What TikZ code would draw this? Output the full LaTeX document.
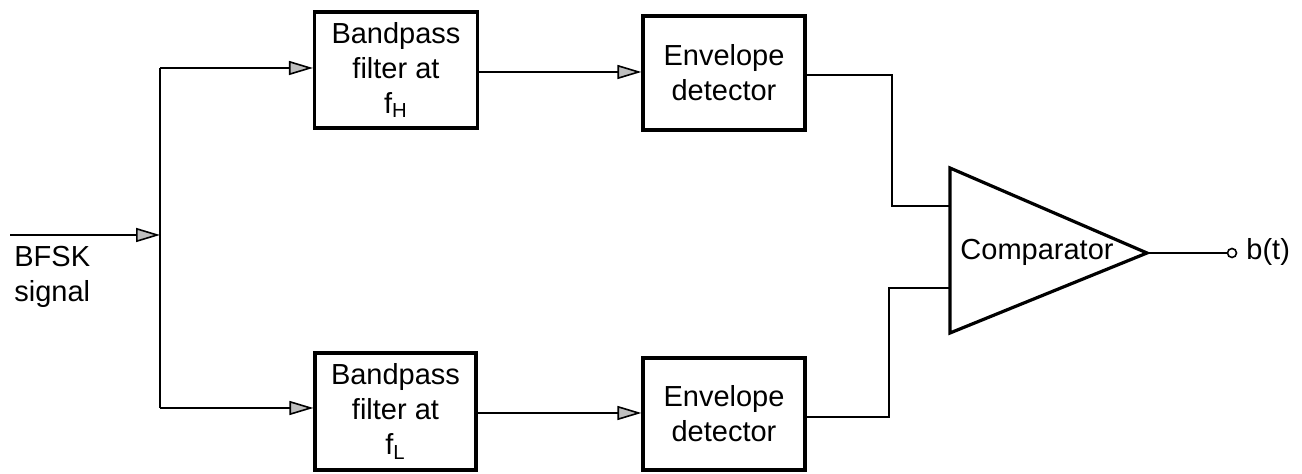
\documentclass[tikz,border=0pt]{standalone}
\usepackage{fontspec}
\setmainfont{Liberation Sans}
\usetikzlibrary{arrows.meta}
\begin{document}
\begin{tikzpicture}[x=0.5pt,y=-0.5pt,
  txt/.style={font=\fontsize{14.5}{17.5}\selectfont, inner sep=0pt},
  blk/.style={txt, draw, line width=1.6pt, align=center},
  wire/.style={line width=0.8pt},
  arr/.style={wire, -{Triangle[length=12pt,width=7pt,fill=gray!50]}}
]
\useasboundingbox (0,0) rectangle (1302,474);
% blocks
\node[blk, minimum width=81.5pt, minimum height=58pt] (bpfH) at (396,70) {Bandpass\\filter at\\f\textsubscript{H}};
\node[blk, minimum width=81pt, minimum height=57pt] (envH) at (724,73) {Envelope\\detector};
\node[blk, minimum width=80.5pt, minimum height=58.5pt] (bpfL) at (395.5,411.5) {Bandpass\\filter at\\f\textsubscript{L}};
\node[blk, minimum width=81pt, minimum height=56pt] (envL) at (724,414) {Envelope\\detector};
% comparator
\coordinate (ctop) at (950,168);
\coordinate (cbot) at (950,333);
\coordinate (ctip) at (1147,253);
\draw[line width=1.6pt, line join=miter] (ctop) -- (ctip) -- (cbot) -- cycle;
\node[txt] (comp) at (1037,252) {Comparator};
\coordinate (cin1) at (950,206);
\coordinate (cin2) at (950,288);
% input
\coordinate (inL) at (10,235);
\coordinate (split) at (160,235);
\coordinate (splitT) at (160,68);
\coordinate (splitB) at (160,408);
\node[txt, anchor=north west, align=left] (lbl) at (14,246) {BFSK\\signal};
\draw[arr] (inL) -- (split);
\draw[wire] (splitT) -- (splitB);
\draw[arr] (splitT) -- (bpfH.west |- splitT);
\draw[arr] (splitB) -- (bpfL.west |- splitB);
% filter to detector
\draw[arr] (bpfH.east |- 0,72) -- (envH.west |- 0,72);
\draw[arr] (bpfL.east |- 0,413) -- (envL.west |- 0,413);
% detector to comparator
\draw[wire] (envH.east |- 0,75) -- (892,75) |- (cin1);
\draw[wire] (envL.east |- 0,417) -- (889,417) |- (cin2);
% output
\node[draw, circle, line width=0.8pt, minimum size=4.5pt, inner sep=0pt] (out) at (1232,253) {};
\draw[wire] (ctip) -- (out);
\node[txt, anchor=west] (bt) at (1246,252) {b(t)};
\end{tikzpicture}
\end{document}
